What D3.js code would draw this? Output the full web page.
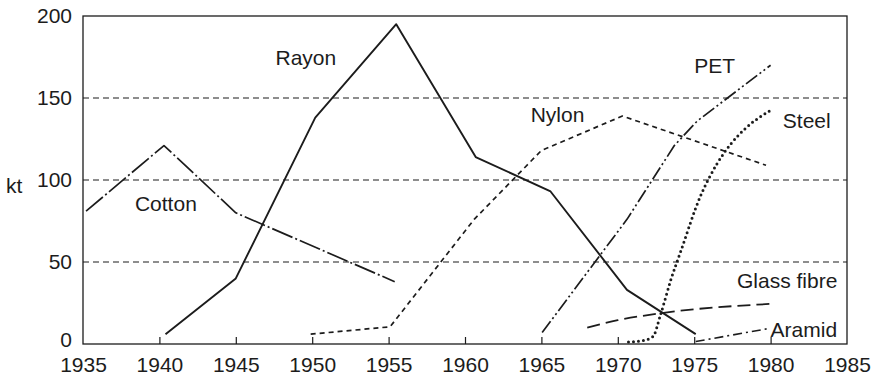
<!DOCTYPE html>
<html>
<head>
<meta charset="utf-8">
<script src="https://cdn.jsdelivr.net/npm/d3@7"></script>
<style>
  html, body { margin: 0; padding: 0; background: #fff; }
  svg { display: block; font-family: "Liberation Sans", Arial, Helvetica, sans-serif; }
</style>
</head>
<body>
<svg id="chart" width="878" height="379"></svg>
<script>
// Fibre consumption by type, kt per year
const cotton = [[1935.2, 81], [1940.3, 121], [1945, 80], [1955.4, 38]];
const rayon = [[1940.4, 6], [1945, 40], [1950.2, 138], [1955.5, 195], [1960.7, 114], [1965.6, 93], [1970.6, 33], [1975.1, 6]];
const nylon = [[1949.9, 6], [1955.1, 10.5], [1960.6, 76], [1965, 118], [1970.3, 139], [1979.7, 109]];
const pet = [[1965.05, 7], [1970.6, 76], [1973.7, 121], [1975.2, 136], [1980, 170]];
const steel = [[1970.7, 1.2], [1971.6, 2], [1972.3, 4.5], [1972.8, 18], [1973.5, 40], [1974.1, 56], [1975.4, 90], [1976.5, 110], [1977.4, 122], [1978.3, 131], [1980.1, 143]];
const glassFibre = [[1968, 10], [1970, 14.5], [1973, 19], [1980.1, 24.5]];
const aramid = [[1975.1, 1.5], [1979.9, 9.5]];

const xTicks = [1935, 1940, 1945, 1950, 1955, 1960, 1965, 1970, 1975, 1980, 1985];
const yTicks = [0, 50, 100, 150, 200];
const gridValues = [50, 100, 150];
const yAxisTitle = "kt";

const seriesNames = ["Cotton", "Rayon", "Nylon", "PET", "Steel", "Glass fibre", "Aramid"];
const seriesData = [cotton, rayon, nylon, pet, steel, glassFibre, aramid];

// Drawing styles, one per series
const styles = {
  "Cotton":      { dash: "22,3,2,3", width: 1.7, curve: d3.curveLinear },
  "Rayon":       { dash: null, width: 1.9, curve: d3.curveLinear },
  "Nylon":       { dash: "5,4", width: 1.7, curve: d3.curveLinear },
  "PET":         { dash: "14,3,2,3,2,3", width: 1.7, curve: d3.curveLinear },
  "Steel":       { dash: "0,5", width: 3, curve: d3.curveMonotoneX, cap: "round" },
  "Glass fibre": { dash: "13,6", width: 1.8, curve: d3.curveMonotoneX },
  "Aramid":      { dash: "9,4,2,4", width: 1.6, curve: d3.curveLinear }
};

// Label anchors (left edge, baseline) in data units
const labelAnchors = {
  "Rayon": [1947.6, 170],
  "Cotton": [1938.4, 81.4],
  "Nylon": [1964.3, 135.2],
  "PET": [1975.0, 165],
  "Steel": [1980.8, 131.5],
  "Glass fibre": [1977.8, 34],
  "Aramid": [1980.0, 4.3]
};

const ink = "#1c1c1c";
const fontSize = 21;
const svg = d3.select("#chart");
const plotLeft = 83, plotRight = 847, plotTop = 16, plotBottom = 344;

const x = d3.scaleLinear().domain([1935, 1985]).range([plotLeft, plotRight]);
const y = d3.scaleLinear().domain([0, 200]).range([plotBottom, plotTop]);

// Dashed reference lines
svg.append("g").selectAll("line").data(gridValues).join("line")
  .attr("x1", plotLeft).attr("x2", plotRight)
  .attr("y1", d => y(d)).attr("y2", d => y(d))
  .attr("stroke", ink).attr("stroke-width", 1.1)
  .attr("stroke-dasharray", "6,4");

// Series lines
const lineGen = d3.line().x(d => x(d[0])).y(d => y(d[1]));
const lines = svg.append("g").attr("fill", "none");
seriesNames.forEach((name, i) => {
  const s = styles[name];
  lines.append("path")
    .datum(seriesData[i])
    .attr("d", lineGen.curve(s.curve))
    .attr("stroke", ink)
    .attr("stroke-width", s.width)
    .attr("stroke-dasharray", s.dash)
    .attr("stroke-linecap", s.cap || "butt")
    .attr("stroke-linejoin", "round");
});

// Bottom axis: inward ticks, labels below
const xAxis = d3.axisBottom(x).tickValues(xTicks).tickFormat(d3.format("d"))
  .tickSizeInner(-7).tickSizeOuter(0).tickPadding(13);
const gx = svg.append("g").attr("transform", `translate(0,${plotBottom})`).call(xAxis);
gx.select(".domain").remove();
gx.selectAll(".tick line").attr("stroke", ink).attr("stroke-width", 1.2)
  .filter(d => d === 1935 || d === 1985).remove();
gx.selectAll(".tick text").attr("font-size", fontSize).attr("fill", ink)
  .attr("font-family", "'Liberation Sans', Arial, sans-serif");

// Left axis labels; the zero label is lifted a little to clear the year labels
const yAxis = d3.axisLeft(y).tickValues(yTicks).tickFormat(d3.format("d"))
  .tickSize(0).tickPadding(11);
const gy = svg.append("g").attr("transform", `translate(${plotLeft},0)`).call(yAxis);
gy.select(".domain").remove();
gy.selectAll(".tick text").attr("font-size", fontSize).attr("fill", ink)
  .attr("font-family", "'Liberation Sans', Arial, sans-serif")
  .filter(d => d === 0).attr("y", -4);

// Frame
svg.append("rect")
  .attr("x", plotLeft).attr("y", plotTop)
  .attr("width", plotRight - plotLeft).attr("height", plotBottom - plotTop)
  .attr("fill", "none").attr("stroke", ink).attr("stroke-width", 1.3);

// Axis title
svg.append("text").attr("x", 6).attr("y", 193)
  .attr("font-size", fontSize).attr("fill", ink).text(yAxisTitle);

// Series labels
svg.append("g").selectAll("text").data(seriesNames).join("text")
  .attr("x", d => x(labelAnchors[d][0]))
  .attr("y", d => y(labelAnchors[d][1]))
  .attr("font-size", fontSize).attr("fill", ink)
  .text(d => d);
</script>
</body>
</html>
